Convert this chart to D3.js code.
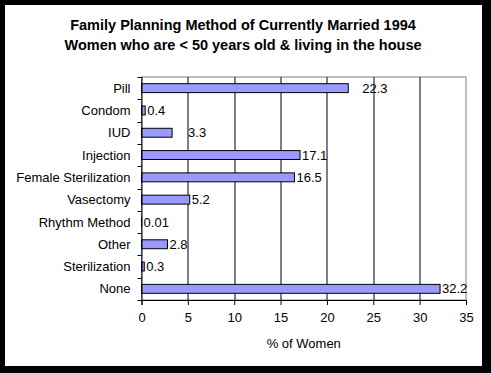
<!DOCTYPE html>
<html>
<head>
<meta charset="utf-8">
<script src="https://cdn.jsdelivr.net/npm/d3@7"></script>
<style>
body{margin:0;background:#000;}
svg{display:block;}
</style>
</head>
<body>
<svg id="chart"></svg>
<script>
var methods = ["Pill","Condom","IUD","Injection","Female Sterilization","Vasectomy","Rhythm Method","Other","Sterilization","None"];
var percents = [22.3,0.4,3.3,17.1,16.5,5.2,0.01,2.8,0.3,32.2];
var xTicks = [0,5,10,15,20,25,30,35];
var titleLines = ["Family Planning Method of Currently Married 1994","Women who are < 50 years old & living in the house"];

// some labels were dragged away from their bars in the original
var labelNudge = {"Pill": 12, "IUD": 14};

var W = 491, H = 373;
var margin = {top: 77, left: 141.5, right: 25, bottom: 73};
var width = W - margin.left - margin.right;
var height = H - margin.top - margin.bottom;

var svg = d3.select("#chart").attr("width", W).attr("height", H)
	.style("font-family", "Arial, 'Liberation Sans', sans-serif");

svg.append("rect").attr("width", W).attr("height", H).attr("fill", "#000");
svg.append("rect").attr("x", 5).attr("y", 5).attr("width", 477).attr("height", 361).attr("fill", "#fff");

svg.selectAll(".title")
	.data(titleLines)
	.join("text")
	.attr("class", "title")
	.attr("x", 243)
	.attr("y", (d,i) => 30 + i*19.5)
	.attr("text-anchor", "middle")
	.attr("font-size", 14.5)
	.attr("font-weight", "bold")
	.text(d => d);

var g = svg.append("g").attr("transform", "translate(" + margin.left + "," + margin.top + ")");

var x = d3.scaleLinear().domain([0, 35]).range([0, width]);
var y = d3.scaleBand().domain(methods).range([0, height]).paddingInner(0.6).paddingOuter(0.3);

// plot frame (top/right grey)
g.append("rect").attr("width", width).attr("height", height)
	.attr("fill", "none").attr("stroke", "#808080");

// gridlines
g.selectAll(".grid")
	.data(xTicks.slice(1, -1))
	.join("line")
	.attr("class", "grid")
	.attr("x1", d => Math.round(x(d)) + 0.5).attr("x2", d => Math.round(x(d)) + 0.5)
	.attr("y1", 0).attr("y2", height)
	.attr("stroke", "#000");

// bars
g.selectAll(".bar")
	.data(methods)
	.join("rect")
	.attr("class", "bar")
	.attr("x", 0)
	.attr("y", d => y(d))
	.attr("width", (d,i) => x(percents[i]))
	.attr("height", y.bandwidth())
	.attr("fill", "#9999ff")
	.attr("stroke", "#000");

// value labels
g.selectAll(".val")
	.data(methods)
	.join("text")
	.attr("class", "val")
	.attr("x", (d,i) => x(percents[i]) + 2 + (labelNudge[d] || 0))
	.attr("y", d => y(d) + y.bandwidth()/2)
	.attr("dy", "0.35em")
	.attr("font-size", 13)
	.text((d,i) => percents[i]);

// x axis
var xAxis = g.append("g")
	.attr("transform", "translate(0," + height + ")")
	.call(d3.axisBottom(x).tickValues(xTicks).tickSize(5).tickPadding(8));
xAxis.selectAll("text").attr("font-size", 13).attr("font-family", null);
xAxis.selectAll("line").attr("stroke", "#000");
xAxis.select(".domain").attr("stroke", "#000");

// y axis, ticks sit between categories
var yAxis = g.append("g");
yAxis.append("line").attr("x1", 0.5).attr("x2", 0.5).attr("y1", 0).attr("y2", height).attr("stroke", "#000");
yAxis.selectAll(".ytick")
	.data(d3.range(methods.length + 1))
	.join("line")
	.attr("class", "ytick")
	.attr("x1", -4).attr("x2", 0)
	.attr("y1", i => Math.round(i*height/methods.length) + 0.5)
	.attr("y2", i => Math.round(i*height/methods.length) + 0.5)
	.attr("stroke", "#000");
yAxis.selectAll(".ylab")
	.data(methods)
	.join("text")
	.attr("class", "ylab")
	.attr("x", -11)
	.attr("y", d => y(d) + y.bandwidth()/2)
	.attr("dy", "0.35em")
	.attr("text-anchor", "end")
	.attr("font-size", 13)
	.text(d => d);

svg.append("text")
	.attr("x", margin.left + x(17.5))
	.attr("y", 348)
	.attr("text-anchor", "middle")
	.attr("font-size", 13)
	.text("% of Women");
</script>
</body>
</html>
